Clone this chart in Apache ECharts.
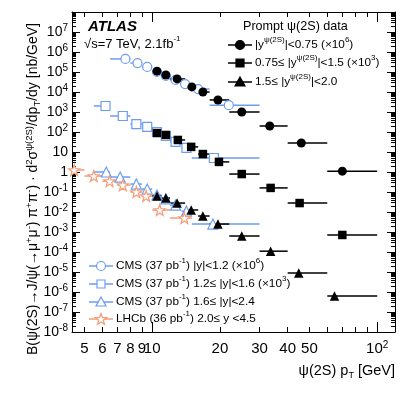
<!DOCTYPE html>
<html>
<head>
<meta charset="utf-8">
<script src="https://cdn.jsdelivr.net/npm/echarts@6/dist/echarts.min.js"></script>
<style>
html, body { margin: 0; padding: 0; background: #fff; }
#chart { width: 407px; height: 395px; }
</style>
</head>
<body>
<div id="chart"></div>
<script>
// axis range (pT in GeV, cross section in nb/GeV)
var ptMin = 4.4, ptMax = 120;
var xTickLabels = [5, 6, 7, 8, 9, 10, 20, 30, 40, 50, 100];
var xMajorTicks = [10, 100];
var xMinorTicks = [5, 6, 7, 8, 9, 20, 30, 40, 50, 60, 70, 80, 90];
var yExpLabels = [-8, -7, -6, -5, -4, -3, -2, -1, 0, 1, 2, 3, 4, 5, 6, 7];

// ATLAS prompt psi(2S), |y|<0.75 (scaled x10^6)
var atlasBinLo1 = [10, 11, 12, 14, 16, 18, 22, 30, 40, 60];
var atlasBinHi1 = [11, 12, 14, 16, 18, 22, 30, 40, 60, 100];
var atlasPt1 = [10.5, 11.5, 12.9, 15.0, 16.8, 19.6, 25, 33.3, 46, 70];
var atlas1 = [0.11, 0.071, 0.045, 0.018, 0.010, 0.0040, 0.0010, 2.0e-4, 2.8e-5, 1.1e-6];
// 0.75<=|y|<1.5 (x10^3)
var atlasPt2 = [10.5, 11.5, 13.0, 14.9, 16.8, 19.8, 25, 33.6, 45.2, 70];
var atlas2 = [0.089, 0.071, 0.040, 0.018, 0.0079, 0.0032, 7.9e-4, 1.6e-4, 2.8e-5, 7.1e-7];
// 1.5<=|y|<2.0
var atlasPt3 = [10.5, 11.5, 12.9, 14.9, 16.8, 19.6, 25, 33.6, 44.8, 64.6];
var atlas3 = [0.063, 0.050, 0.028, 0.0126, 0.0063, 0.0025, 6.3e-4, 1.1e-4, 8.9e-6, 6.3e-7];

// CMS |y|<1.2 (x10^6)
var cmsBinLo1 = [6.5, 8, 9, 10, 11, 12, 13.5, 15, 18];
var cmsBinHi1 = [8, 9, 10, 11, 12, 13.5, 15, 18, 30];
var cmsPt1 = [7.6, 8.6, 9.5, 10.5, 11.5, 12.7, 14.0, 16.0, 21.9];
var cms1 = [0.45, 0.28, 0.18, 0.10, 0.063, 0.040, 0.025, 0.014, 0.0022];
// CMS 1.2<=|y|<1.6 (x10^3)
var cmsBinLo2 = [5.5, 6.5, 8, 9, 10, 11, 12, 13.5, 15];
var cmsBinHi2 = [6.5, 8, 9, 10, 11, 12, 13.5, 15, 30];
var cmsPt2 = [6.2, 7.4, 8.5, 9.5, 10.5, 11.5, 12.7, 14.2, 18.8];
var cms2 = [2.0, 0.63, 0.25, 0.18, 0.10, 0.063, 0.032, 0.016, 0.0050];
// CMS 1.6<=|y|<2.4
var cmsBinLo3 = [5.5, 6.5, 8, 9, 10, 11, 12, 13.5, 15];
var cmsBinHi3 = [6.5, 8, 9, 10, 11, 12, 13.5, 15, 30];
var cmsPt3 = [6.25, 7.2, 8.5, 9.5, 10.5, 11.5, 12.7, 14.2, 18.6];
var cms3 = [1.0, 0.56, 0.25, 0.14, 0.071, 0.045, 0.022, 0.011, 0.0025];

// LHCb 2.0<=y<4.5
var lhcbBinLo = [4, 5, 6, 7, 8, 9, 10, 12];
var lhcbBinHi = [5, 6, 7, 8, 9, 10, 12, 15];
var lhcbPt = [4.5, 5.5, 6.46, 7.4, 8.5, 9.4, 10.8, 13.9];
var lhcb = [1.26, 0.63, 0.35, 0.22, 0.10, 0.063, 0.0126, 0.0050];

var FONT = "'Liberation Sans', Arial, Helvetica, sans-serif";
var BLUE = '#6d9df0';
var ORANGE = '#f59c78';
var STAR = 'path://M10 0L12.35 6.76L19.51 6.91L13.8 11.24L15.88 18.09L10 14L4.12 18.09L6.2 11.24L0.49 6.91L7.65 6.76Z';

var L = Math.log10;
var chart = echarts.init(document.getElementById('chart'));

function pts(pt, val, scale) {
    return pt.map(function (p, i) { return [L(p), L(val[i] * scale)]; });
}
function bins(lo, hi, val, scale) {
    return lo.map(function (a, i) { return [L(a), L(hi[i]), L(val[i] * scale)]; });
}
function hbar(data, color, width) {
    return {
        type: 'custom', data: data, clip: true, silent: true,
        renderItem: function (params, api) {
            var a = api.coord([api.value(0), api.value(2)]);
            var b = api.coord([api.value(1), api.value(2)]);
            return { type: 'line', shape: { x1: a[0], y1: a[1], x2: b[0], y2: b[1] },
                     style: { stroke: color, lineWidth: width } };
        }
    };
}
function marks(data, symbol, size, fill, stroke) {
    return {
        type: 'scatter', data: data, symbol: symbol, symbolSize: size, silent: true,
        itemStyle: { color: fill, borderColor: stroke || fill, borderWidth: stroke ? 1.2 : 0, opacity: 1 }
    };
}

var supRich = { s: { fontSize: 10, fontFamily: FONT, lineHeight: 10, verticalAlign: 'top', color: '#000' } };

function fmtX(v) {
    var p = Math.round(Math.pow(10, v));
    return p === 100 ? '10{s|2}' : String(p);
}
function fmtY(v) {
    var e = Math.round(v);
    if (e === 0) return '1';
    if (e === 1) return '10';
    return '10{s|' + e + '}';
}
function minorDecades() {
    var out = [];
    for (var d = -8; d < 8; d++) for (var k = 2; k <= 9; k++) out.push(d + L(k));
    return out;
}

function xAx(pos, ticks, len, withLine, withLabel) {
    return {
        type: 'value', position: pos, min: L(ptMin), max: L(ptMax),
        axisLine: { show: withLine, onZero: false, lineStyle: { color: '#000', width: 1 } },
        splitLine: { show: false },
        axisTick: { show: true, inside: true, length: len, customValues: ticks.map(L), lineStyle: { color: '#000', width: 1 } },
        axisLabel: withLabel ? { show: true, customValues: xTickLabels.map(L), formatter: fmtX, margin: 8,
            fontSize: 15, fontFamily: FONT, color: '#000', lineHeight: 18, rich: supRich } : { show: false }
    };
}
function yAx(pos, ticks, len, withLine, withLabel) {
    return {
        type: 'value', position: pos, min: -8, max: 8, interval: 1,
        axisLine: { show: withLine, onZero: false, lineStyle: { color: '#000', width: 1 } },
        splitLine: { show: false },
        axisTick: { show: true, inside: true, length: len, customValues: ticks, lineStyle: { color: '#000', width: 1 } },
        axisLabel: withLabel ? { show: true, customValues: yExpLabels, formatter: fmtY, margin: 4,
            fontSize: 14, fontFamily: FONT, color: '#000', lineHeight: 18, rich: supRich } : { show: false }
    };
}
var yMajor = yExpLabels.concat([8]);

function txt(x, y, text, size, extra) {
    var sub = Math.round(size * 0.65);
    var st = { x: x, y: y, text: text, fontSize: size, fontFamily: FONT, fill: '#000',
        align: 'left', textAlign: 'left', verticalAlign: 'middle', textVerticalAlign: 'middle', lineHeight: 18,
        rich: {
            s: { fontSize: sub, fontFamily: FONT, lineHeight: 9, verticalAlign: 'top', fill: '#000' },
            u: { fontSize: sub, fontFamily: FONT, lineHeight: 9, verticalAlign: 'bottom', fill: '#000' }
        } };
    if (extra) for (var k in extra) st[k] = extra[k];
    return { type: 'text', z: 100, style: st };
}
function starPts(cx, cy, R, r) {
    var p = [];
    for (var i = 0; i < 10; i++) {
        var a = i * Math.PI / 5, rad = i % 2 ? r : R;
        p.push([cx + rad * Math.sin(a), cy - rad * Math.cos(a)]);
    }
    return p;
}
function legendItem(x0, x1, y, kind, color, fill, text) {
    var cx = (x0 + x1) / 2, m;
    if (kind === 'circle') m = { type: 'circle', shape: { cx: cx, cy: y, r: 4.5 } };
    else if (kind === 'square') m = { type: 'rect', shape: { x: cx - 4, y: y - 4, width: 8, height: 8 } };
    else if (kind === 'triangle') m = { type: 'polygon', shape: { points: [[cx, y - 5], [cx + 5, y + 4], [cx - 5, y + 4]] } };
    else m = { type: 'polygon', shape: { points: starPts(cx, y + 0.5, 6, 2.4) } };
    m.z = 100;
    m.style = { fill: fill, stroke: color, lineWidth: 1.2 };
    return [
        { type: 'line', z: 100, shape: { x1: x0, y1: y, x2: x1, y2: y }, style: { stroke: color, lineWidth: 1.5 } },
        m,
        txt(x1 + 3, y, text, 11.8)
    ];
}

var graphics = [
    txt(88, 27, 'ATLAS', 15, { fontWeight: 'bold', fontStyle: 'italic' }),
    txt(84, 44, '√s=7 TeV, 2.1fb{s|-1}', 13),
    txt(243, 27, 'Prompt ψ(2S) data', 12.6),
    txt(395, 371, 'ψ(2S) p{u|T} [GeV]', 14.5, { align: 'right', textAlign: 'right' }),
    { type: 'text', z: 100, x: 33, y: 189, rotation: Math.PI / 2,
      style: { x: 0, y: 0, text: 'B(ψ(2S)→J/ψ(→μ{s|+}μ{s|-}) π{s|+}π{s|-}) · d{s|2}σ{s|ψ(2S)}/dp{u|T}/dy [nb/GeV]',
        fontSize: 14, fontFamily: FONT, fill: '#000', align: 'center', textAlign: 'center',
        verticalAlign: 'middle', textVerticalAlign: 'middle', lineHeight: 18,
        rich: {
            s: { fontSize: 9.5, fontFamily: FONT, lineHeight: 9, verticalAlign: 'top', fill: '#000' },
            u: { fontSize: 9.5, fontFamily: FONT, lineHeight: 9, verticalAlign: 'bottom', fill: '#000' }
        } } }
];
graphics = graphics
    .concat(legendItem(228, 252, 45, 'circle', '#000', '#000', '|y{s|ψ(2S)}|<0.75 (×10{s|6})'))
    .concat(legendItem(228, 252, 63, 'square', '#000', '#000', '0.75≤ |y{s|ψ(2S)}|<1.5 (×10{s|3})'))
    .concat(legendItem(228, 252, 82, 'triangle', '#000', '#000', '1.5≤ |y{s|ψ(2S)}|<2.0'))
    .concat(legendItem(89, 113, 266, 'circle', BLUE, '#fff', 'CMS (37 pb{s|-1}) |y|<1.2 (×10{s|6})'))
    .concat(legendItem(89, 113, 284, 'square', BLUE, '#fff', 'CMS (37 pb{s|-1}) 1.2≤ |y|<1.6 (×10{s|3})'))
    .concat(legendItem(89, 113, 302, 'triangle', BLUE, '#fff', 'CMS (37 pb{s|-1}) 1.6≤ |y|<2.4'))
    .concat(legendItem(89, 113, 319, 'star', ORANGE, '#fff', 'LHCb (36 pb{s|-1}) 2.0≤ y <4.5'));

var option = {
    animation: false,
    backgroundColor: '#fff',
    grid: { left: 72, right: 12, top: 12, bottom: 63, outerBoundsMode: 'none' },
    xAxis: [
        xAx('bottom', xMajorTicks, 10, true, true),
        xAx('bottom', xMinorTicks, 5, false, false),
        xAx('top', xMajorTicks, 10, true, false),
        xAx('top', xMinorTicks, 5, false, false)
    ],
    yAxis: [
        yAx('left', yMajor, 8, true, true),
        yAx('left', minorDecades(), 4, false, false),
        yAx('right', yMajor, 8, true, false),
        yAx('right', minorDecades(), 4, false, false)
    ],
    series: [
        hbar(bins(cmsBinLo1, cmsBinHi1, cms1, 1e6), BLUE, 1.5),
        marks(pts(cmsPt1, cms1, 1e6), 'circle', 9, '#fff', BLUE),
        hbar(bins(cmsBinLo2, cmsBinHi2, cms2, 1e3), BLUE, 1.5),
        marks(pts(cmsPt2, cms2, 1e3), 'rect', 9, '#fff', BLUE),
        hbar(bins(cmsBinLo3, cmsBinHi3, cms3, 1), BLUE, 1.5),
        marks(pts(cmsPt3, cms3, 1), 'triangle', 10, '#fff', BLUE),
        hbar(bins(lhcbBinLo, lhcbBinHi, lhcb, 1), ORANGE, 1.5),
        marks(pts(lhcbPt, lhcb, 1), STAR, 11, '#fff', ORANGE),
        hbar(bins(atlasBinLo1, atlasBinHi1, atlas1, 1e6), '#000', 1.5),
        marks(pts(atlasPt1, atlas1, 1e6), 'circle', 9, '#000'),
        hbar(bins(atlasBinLo1, atlasBinHi1, atlas2, 1e3), '#000', 1.5),
        marks(pts(atlasPt2, atlas2, 1e3), 'rect', 8.5, '#000'),
        hbar(bins(atlasBinLo1, atlasBinHi1, atlas3, 1), '#000', 1.5),
        marks(pts(atlasPt3, atlas3, 1), 'triangle', 9.5, '#000')
    ],
    graphic: { elements: graphics }
};
chart.setOption(option);
</script>
</body>
</html>
